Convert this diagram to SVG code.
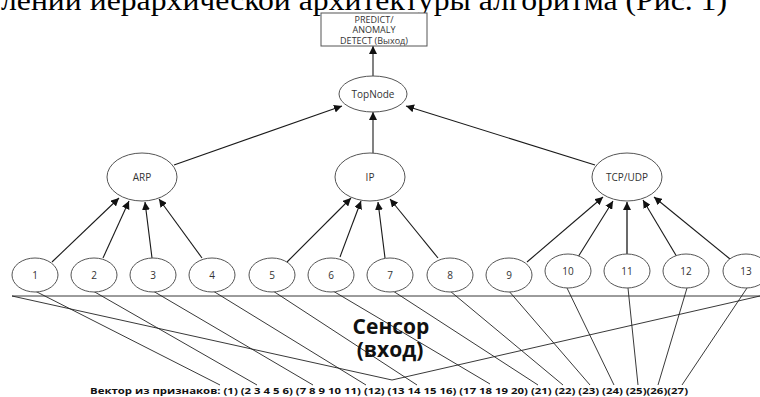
<svg xmlns="http://www.w3.org/2000/svg" width="760" height="397" viewBox="0 0 760 397">
  <style>
    .node ellipse { fill: #ffffff; stroke: #555555; stroke-width: 1; }
    .lbl { font-family: "Open Sans", "Liberation Sans", sans-serif; font-size: 10px; fill: #333333; text-anchor: middle; }
    .arrow { stroke: #1a1a1a; stroke-width: 1.1; fill: none; marker-end: url(#ah); }
    .wire { stroke: #222222; stroke-width: 0.9; fill: none; }
  </style>
  <defs>
    <marker id="ah" markerUnits="userSpaceOnUse" markerWidth="9" markerHeight="8" refX="8" refY="4" orient="auto">
      <path d="M0,0 L8,4 L0,8 Z" fill="#111111"/>
    </marker>
  </defs>
  <rect width="760" height="397" fill="#ffffff"/>

  <!-- heading line running off the top edge -->
  <text x="1" y="10" font-family="Liberation Serif, serif" font-size="30" fill="#000000" textLength="726" lengthAdjust="spacingAndGlyphs">лении иерархической архитектуры алгоритма (Рис. 1)</text>

  <!-- connectors -->
  <g id="connectors">
    <line class="arrow" x1="373" y1="76" x2="373" y2="46"/>
    <line class="arrow" x1="174" y1="165" x2="342" y2="106"/>
    <line class="arrow" x1="373" y1="153" x2="373" y2="112"/>
    <line class="arrow" x1="595" y1="165" x2="406" y2="106"/>

    <line class="arrow" x1="52" y1="262" x2="119" y2="198"/>
    <line class="arrow" x1="103" y1="258" x2="129" y2="201"/>
    <line class="arrow" x1="152" y1="258" x2="145" y2="202"/>
    <line class="arrow" x1="202" y1="258" x2="159" y2="199"/>

    <line class="arrow" x1="287" y1="262" x2="351" y2="198"/>
    <line class="arrow" x1="340" y1="257" x2="361" y2="201"/>
    <line class="arrow" x1="385" y1="258" x2="378" y2="202"/>
    <line class="arrow" x1="438" y1="258" x2="390" y2="199"/>

    <line class="arrow" x1="527" y1="262" x2="603" y2="197"/>
    <line class="arrow" x1="578" y1="257" x2="613" y2="201"/>
    <line class="arrow" x1="627" y1="256" x2="627" y2="202" style="stroke:#444444;stroke-width:1.6"/>
    <line class="arrow" x1="677" y1="257" x2="643" y2="200"/>
    <line class="arrow" x1="730" y1="259" x2="654" y2="197"/>

    <!-- sensor bus and feature wiring -->
    <line class="wire" x1="12" y1="296" x2="760" y2="296"/>
    <polyline class="wire" points="12,296 392,380 760,296"/>
    <line class="wire" x1="35" y1="291" x2="220" y2="385"/>
    <line class="wire" x1="93" y1="291" x2="257" y2="385"/>
    <line class="wire" x1="153" y1="291" x2="313" y2="385"/>
    <line class="wire" x1="213" y1="291" x2="366" y2="385"/>
    <line class="wire" x1="273" y1="291" x2="417" y2="385"/>
    <line class="wire" x1="333" y1="291" x2="490" y2="384"/>
    <line class="wire" x1="393" y1="291" x2="538" y2="385"/>
    <line class="wire" x1="450" y1="291" x2="563" y2="385"/>
    <line class="wire" x1="508" y1="290" x2="590" y2="385"/>
    <line class="wire" x1="567" y1="288" x2="614" y2="385"/>
    <line class="wire" x1="628" y1="288" x2="638" y2="385"/>
    <line class="wire" x1="687" y1="288" x2="658" y2="385"/>
    <line class="wire" x1="747" y1="288" x2="682" y2="385"/>
  </g>

  <!-- output box -->
  <g id="output">
    <rect x="321" y="13" width="106" height="33" fill="#ffffff" stroke="#555555" stroke-width="1"/>
    <text class="lbl" x="374" y="22.5" style="font-size:9px">PREDICT/</text>
    <text class="lbl" x="374" y="33" style="font-size:9px">ANOMALY</text>
    <text class="lbl" x="374" y="43.5" style="font-size:9px">DETECT (Выход)</text>
  </g>

  <g id="topnode" class="node">
    <ellipse cx="373" cy="94" rx="34" ry="18"/>
    <text class="lbl" x="373" y="97.5">TopNode</text>
  </g>

  <g id="arp" class="node">
    <ellipse cx="142" cy="177" rx="35" ry="24"/>
    <text class="lbl" x="142" y="180.5">ARP</text>
  </g>
  <g id="ip" class="node">
    <ellipse cx="370" cy="177" rx="35" ry="24"/>
    <text class="lbl" x="370" y="180.5">IP</text>
  </g>
  <g id="tcpudp" class="node">
    <ellipse cx="627" cy="177" rx="35" ry="24"/>
    <text class="lbl" x="627" y="180.5">TCP/UDP</text>
  </g>

  <g id="n1" class="node"><ellipse cx="35" cy="275" rx="23" ry="17"/><text class="lbl" x="35" y="278.5">1</text></g>
  <g id="n2" class="node"><ellipse cx="94" cy="275" rx="23" ry="17"/><text class="lbl" x="94" y="278.5">2</text></g>
  <g id="n3" class="node"><ellipse cx="153" cy="275" rx="23" ry="17"/><text class="lbl" x="153" y="278.5">3</text></g>
  <g id="n4" class="node"><ellipse cx="212" cy="275" rx="23" ry="17"/><text class="lbl" x="212" y="278.5">4</text></g>
  <g id="n5" class="node"><ellipse cx="272" cy="275" rx="23" ry="17"/><text class="lbl" x="272" y="278.5">5</text></g>
  <g id="n6" class="node"><ellipse cx="331" cy="275" rx="23" ry="17"/><text class="lbl" x="331" y="278.5">6</text></g>
  <g id="n7" class="node"><ellipse cx="390" cy="275" rx="23" ry="17"/><text class="lbl" x="390" y="278.5">7</text></g>
  <g id="n8" class="node"><ellipse cx="450" cy="275" rx="23" ry="17"/><text class="lbl" x="450" y="278.5">8</text></g>
  <g id="n9" class="node"><ellipse cx="509" cy="275" rx="23" ry="17"/><text class="lbl" x="509" y="278.5">9</text></g>
  <g id="n10" class="node"><ellipse cx="568" cy="271" rx="23" ry="17"/><text class="lbl" x="568" y="274.5">10</text></g>
  <g id="n11" class="node"><ellipse cx="627" cy="271" rx="23" ry="17"/><text class="lbl" x="627" y="274.5">11</text></g>
  <g id="n12" class="node"><ellipse cx="686" cy="271" rx="23" ry="17"/><text class="lbl" x="686" y="274.5">12</text></g>
  <g id="n13" class="node"><ellipse cx="746" cy="271" rx="23" ry="17"/><text class="lbl" x="746" y="274.5">13</text></g>

  <!-- sensor caption -->
  <g id="sensor">
    <text x="391" y="334" font-family="Open Sans, Liberation Sans, sans-serif" font-weight="bold" font-size="21" fill="#111111" text-anchor="middle">Сенсор</text>
    <text x="390" y="357" font-family="Open Sans, Liberation Sans, sans-serif" font-weight="bold" font-size="21" fill="#111111" text-anchor="middle">(вход)</text>
  </g>

  <!-- feature vector -->
  <text x="90" y="394" font-family="Open Sans, Liberation Sans, sans-serif" font-weight="bold" font-size="8.5" fill="#111111" textLength="598" lengthAdjust="spacingAndGlyphs">Вектор из признаков: (1) (2 3 4 5 6) (7 8 9 10 11) (12) (13 14 15 16) (17 18 19 20) (21) (22) (23) (24) (25)(26)(27)</text>
</svg>
